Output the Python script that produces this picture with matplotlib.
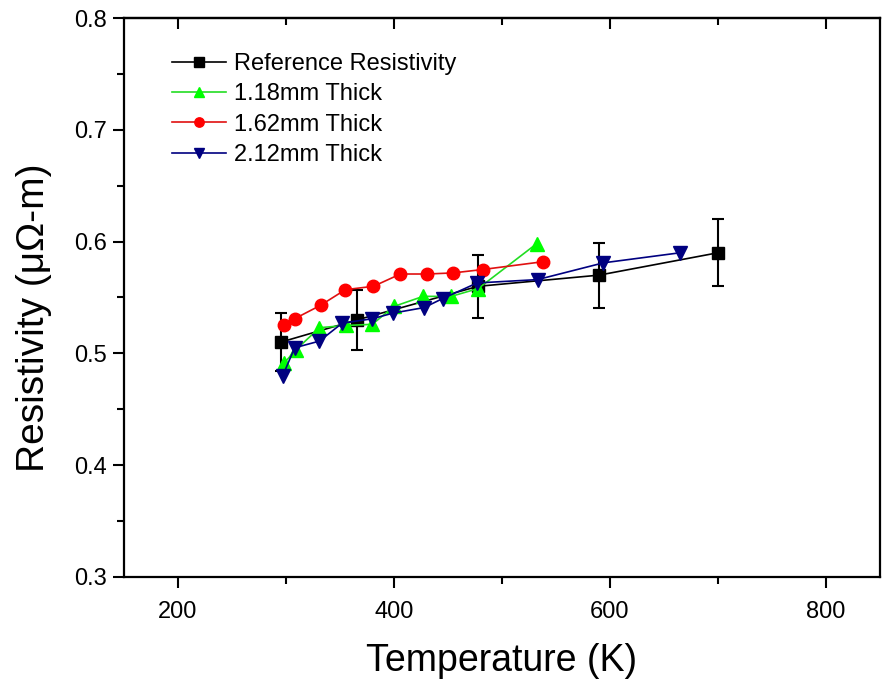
import matplotlib
matplotlib.use("Agg")
import matplotlib.pyplot as plt
from matplotlib.ticker import MultipleLocator, FormatStrFormatter

plt.rcParams['font.family'] = ['Liberation Sans', 'DejaVu Sans']

# reference resistivity with error bars
ref_T = [295, 366, 478, 590, 700]
ref_R = [0.510, 0.530, 0.560, 0.570, 0.590]
ref_err = [0.026, 0.027, 0.028, 0.029, 0.030]

# 1.18 mm thick
t118_T = [298, 309, 331, 356, 380, 400, 427, 453, 478, 532]
t118_R = [0.491, 0.503, 0.523, 0.525, 0.526, 0.542, 0.551, 0.551, 0.558, 0.598]

# 1.62 mm thick
t162_T = [298, 308, 332, 355, 381, 406, 431, 455, 482, 538]
t162_R = [0.525, 0.531, 0.543, 0.557, 0.560, 0.571, 0.571, 0.572, 0.575, 0.582]

# 2.12 mm thick
t212_T = [297, 308, 331, 352, 380, 399, 428, 445, 477, 533, 594, 665]
t212_R = [0.480, 0.505, 0.511, 0.527, 0.531, 0.536, 0.541, 0.549, 0.563, 0.566, 0.581, 0.590]

labels = ["Reference Resistivity", "1.18mm Thick", "1.62mm Thick", "2.12mm Thick"]

fig = plt.figure(figsize=(8.82, 6.82), dpi=100)
ax = fig.add_axes([0.1406, 0.154, 0.857, 0.8196])

ax.errorbar(ref_T, ref_R, yerr=ref_err, fmt='none', ecolor='black',
            elinewidth=1.5, capsize=4.5, capthick=1.5, zorder=3)
ax.plot(ref_T, ref_R, color='black', marker='s', ms=9, lw=1.2,
        label=labels[0], zorder=3)
ax.plot(t118_T, t118_R, color='#22dd22', marker='^', ms=10, lw=1.2,
        mfc='#00ff00', mec='#00ff00', label=labels[1], zorder=4)
ax.plot(t162_T, t162_R, color='#e01010', marker='o', ms=9, lw=1.2,
        mfc='#ff0000', mec='#ff0000', label=labels[2], zorder=5)
ax.plot(t212_T, t212_R, color='#000080', marker='v', ms=10, lw=1.2,
        label=labels[3], zorder=6)

ax.set_xlim(150, 850)
ax.set_ylim(0.3, 0.8)
ax.xaxis.set_major_locator(MultipleLocator(200))
ax.xaxis.set_minor_locator(MultipleLocator(100))
ax.yaxis.set_major_locator(MultipleLocator(0.1))
ax.yaxis.set_minor_locator(MultipleLocator(0.05))
ax.yaxis.set_major_formatter(FormatStrFormatter('%.1f'))

for s in ax.spines.values():
    s.set_linewidth(1.6)
ax.tick_params(which='major', direction='out', length=8, width=1.5, labelsize=17, pad=4)
ax.tick_params(axis='x', which='major', pad=9)
ax.tick_params(which='minor', direction='out', length=5, width=1.5)
ax.tick_params(which='both', top=False, right=False)

# inward ticks along the top edge, no labels
top = ax.secondary_xaxis('top')
top.xaxis.set_major_locator(MultipleLocator(200))
top.xaxis.set_minor_locator(MultipleLocator(100))
top.tick_params(which='major', direction='in', length=8, width=1.5, labeltop=False)
top.tick_params(which='minor', direction='in', length=5, width=1.5)
top.spines['top'].set_linewidth(1.6)

ax.set_xlabel("Temperature (K)", fontsize=27, labelpad=15)
ax.set_ylabel("Resistivity (μΩ-m)", fontsize=28)
ax.yaxis.set_label_coords(-0.095, 0.463)

ax.legend(loc='upper left', bbox_to_anchor=(0.035, 0.975), frameon=False,
          fontsize=17, handlelength=2.3, handletextpad=0.35,
          labelspacing=0.35, markerscale=0.75)

fig.savefig("out.png", dpi=100)
